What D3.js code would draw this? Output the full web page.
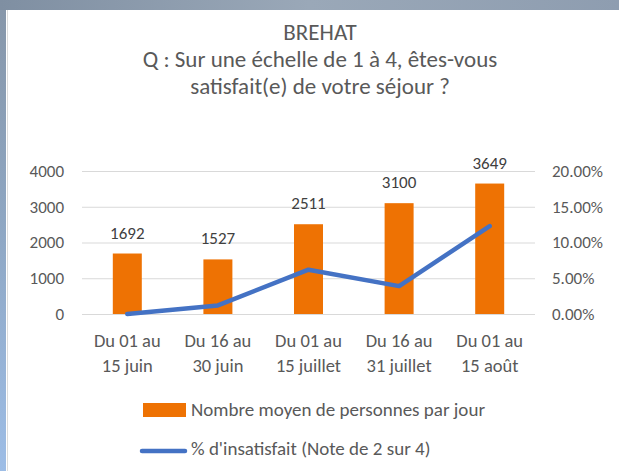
<!DOCTYPE html>
<html><head><meta charset="utf-8">
<script src="https://cdn.jsdelivr.net/npm/d3@7"></script>
<style>
html,body{margin:0;padding:0;background:#fff;}
svg{display:block;}
text{font-family:Carlito, Calibri, Lato, "Open Sans", sans-serif;}
</style></head>
<body>
<svg id="chart" width="619" height="471"></svg>
<script>
const titleLines = ["BREHAT", "Q : Sur une échelle de 1 à 4, êtes-vous", "satisfait(e) de votre séjour ?"];
const categories = [["Du 01 au","15 juin"],["Du 16 au","30 juin"],["Du 01 au","15 juillet"],["Du 16 au","31 juillet"],["Du 01 au","15 août"]];
const visitors = [1692, 1527, 2511, 3100, 3649];
const dissatisfied = [0.0, 0.012, 0.062, 0.039, 0.123];
const leftTicks = [0, 1000, 2000, 3000, 4000];
const rightTicks = [0, 0.05, 0.10, 0.15, 0.20];
const seriesNames = ["Nombre moyen de personnes par jour", "% d'insatisfait (Note de 2 sur 4)"];

const svg = d3.select("#chart");
const W = 619, H = 471;
const orange = "#ee7203", blue = "#4472c4", textCol = "#595959";

// background frame (screenshot border)
const defs = svg.append("defs");
const lg = defs.append("linearGradient").attr("id","leftg").attr("x1",0).attr("y1",0).attr("x2",0).attr("y2",1);
lg.append("stop").attr("offset","0%").attr("stop-color","#8797aa");
lg.append("stop").attr("offset","45%").attr("stop-color","#8ea6c2");
lg.append("stop").attr("offset","100%").attr("stop-color","#9dbde6");
const tg = defs.append("linearGradient").attr("id","topg").attr("x1",0).attr("y1",0).attr("x2",1).attr("y2",0);
tg.append("stop").attr("offset","0%").attr("stop-color","#7f8fa2");
tg.append("stop").attr("offset","50%").attr("stop-color","#9aa8b8");
tg.append("stop").attr("offset","100%").attr("stop-color","#8e9db0");
svg.append("rect").attr("x",0).attr("y",0).attr("width",W).attr("height",H).attr("fill","#fff");
svg.append("rect").attr("x",0).attr("y",0).attr("width",W).attr("height",10).attr("fill","url(#topg)");
svg.append("rect").attr("x",0).attr("y",10).attr("width",6).attr("height",H-10).attr("fill","url(#leftg)");
svg.append("rect").attr("x",7).attr("y",10).attr("width",1).attr("height",H-10).attr("fill","#dcdcdc");

// title
svg.append("g").selectAll("text").data(titleLines).join("text")
  .attr("x", 320).attr("y", (d,i) => 40 + i*27)
  .attr("text-anchor","middle").attr("fill", textCol)
  .style("font-size","23px").text(d => d);

// scales
const x = d3.scaleBand().domain(d3.range(categories.length)).range([82, 535]).paddingInner(0.68).paddingOuter(0.34);
const yL = d3.scaleLinear().domain([0, 4000]).range([314, 171]);
const yR = d3.scaleLinear().domain([0, 0.20]).range([314, 171]);

// gridlines
svg.append("g").selectAll("line").data(leftTicks).join("line")
  .attr("x1", 82).attr("x2", 535)
  .attr("y1", d => yL(d) + 0.5).attr("y2", d => yL(d) + 0.5)
  .attr("stroke", "#d9d9d9").attr("stroke-width", 1);

// axes
const axL = svg.append("g").attr("transform","translate(64,0)")
  .call(d3.axisLeft(yL).tickValues(leftTicks).tickSize(0).tickPadding(0).tickFormat(d3.format("d")));
const axR = svg.append("g").attr("transform","translate(552,0)")
  .call(d3.axisRight(yR).tickValues(rightTicks).tickSize(0).tickPadding(0).tickFormat(d3.format(".2%")));
[axL, axR].forEach(a => {
  a.select(".domain").remove();
  a.selectAll("text").attr("fill", textCol).style("font-size","17px").style("font-family","Carlito, Calibri, Lato, sans-serif");
});

// bars
svg.append("g").selectAll("rect").data(visitors).join("rect")
  .attr("x", (d,i) => x(i)).attr("width", x.bandwidth())
  .attr("y", d => yL(d)).attr("height", d => yL(0) - yL(d))
  .attr("fill", orange);

// bar labels
svg.append("g").selectAll("text").data(visitors).join("text")
  .attr("x", (d,i) => x(i) + x.bandwidth()/2).attr("y", d => yL(d) - 15)
  .attr("text-anchor","middle").attr("fill","#404040")
  .style("font-size","17px").text(d => d);

// line
const line = d3.line().x((d,i) => x(i) + x.bandwidth()/2).y(d => yR(d));
svg.append("path").datum(dissatisfied).attr("d", line)
  .attr("fill","none").attr("stroke", blue).attr("stroke-width", 4.5)
  .attr("stroke-linejoin","round").attr("stroke-linecap","round");

// x labels
const xl = svg.append("g").selectAll("text").data(categories).join("text")
  .attr("text-anchor","middle").attr("fill", textCol).style("font-size","18.5px");
xl.selectAll("tspan").data(d => d).join("tspan")
  .attr("x", function(){ const i = categories.indexOf(d3.select(this.parentNode).datum()); return x(i) + x.bandwidth()/2; })
  .attr("y", (d,j) => 347 + j*25).text(d => d);

// legend
const lgG = svg.append("g");
lgG.append("rect").attr("x", 143).attr("y", 403).attr("width", 43).attr("height", 14).attr("fill", orange);
lgG.append("line").attr("x1", 142).attr("x2", 185).attr("y1", 451).attr("y2", 451)
  .attr("stroke", blue).attr("stroke-width", 4.5).attr("stroke-linecap","round");
lgG.selectAll("text").data(seriesNames).join("text")
  .attr("x", 191).attr("y", (d,i) => 416 + i*39)
  .attr("fill", textCol).style("font-size","19px").text(d => d);
</script>
</body></html>
